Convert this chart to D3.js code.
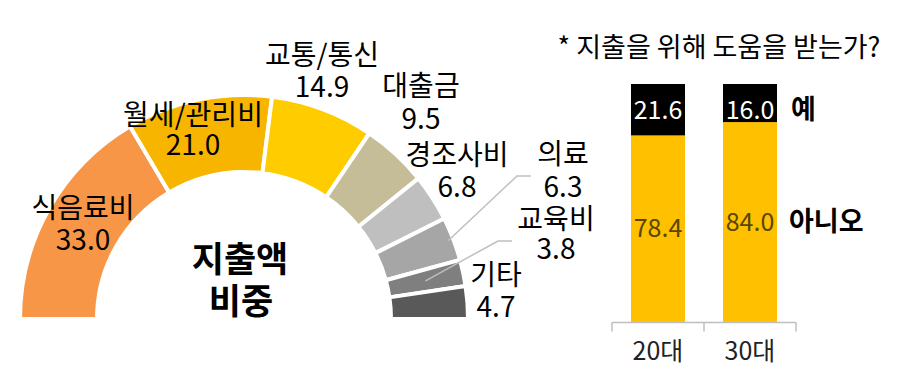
<!DOCTYPE html>
<html>
<head>
<meta charset="utf-8">
<script src="https://cdn.jsdelivr.net/npm/d3@7"></script>
<style>
  html, body { margin: 0; padding: 0; background: #fff; }
  svg { display: block; }
  text { font-family: 'Noto Sans CJK KR', 'Noto Sans', sans-serif; }
</style>
</head>
<body>
<svg id="chart" width="904" height="382"></svg>
<script>
// ---- data ----
const categories = ['식음료비', '월세/관리비', '교통/통신', '대출금', '경조사비', '의료', '교육비', '기타'];
const shares = [33.0, 21.0, 14.9, 9.5, 6.8, 6.3, 3.8, 4.7];
const centerTitle = ['지출액', '비중'];

const ageGroups = ['20대', '30대'];
const yesValues = [21.6, 16.0];
const noValues = [78.4, 84.0];
const answerLabels = ['예', '아니오'];
const sideTitle = '* 지출을 위해 도움을 받는가?';

// ---- styles / layout ----
const sliceColors = ['#F79646', '#F7B500', '#FFCC00', '#C4BD97', '#BFBFBF', '#A6A6A6', '#7F7F7F', '#595959'];
const yesColor = '#000000', noColor = '#FFC000';

// label layout: centre x, name baseline, value baseline, optional leader (stub end x, elbow x, y, radius fraction)
const labelLayout = [
  { x: 83, y1: 218, y2: 250 },
  { x: 193, y1: 125, y2: 155 },
  { x: 322, y1: 65, y2: 97 },
  { x: 421, y1: 96, y2: 129 },
  { x: 457, y1: 165, y2: 197 },
  { x: 563, y1: 164, y2: 197, leader: { x0: 531, x1: 517, y: 176, rf: 0.93 } },
  { x: 556, y1: 229, y2: 259, leader: { x0: 512, x1: 498, y: 241, rf: 0.5 } },
  { x: 496, y1: 285, y2: 317 }
];

const svg = d3.select('#chart');

// ---- half donut ----
const cx = 244, cy = 319, R = 224, r = 147;
const pie = d3.pie().sort(null).value(d => d)
  .startAngle(-Math.PI / 2).endAngle(Math.PI / 2);
const arcs = pie(shares);
const arc = d3.arc().innerRadius(r).outerRadius(R);
const gDonut = svg.append('g').attr('transform', `translate(${cx},${cy})`);

gDonut.selectAll('path.slice').data(arcs).join('path')
  .attr('class', 'slice')
  .attr('d', arc)
  .attr('fill', (d, i) => sliceColors[i])
  .attr('stroke', '#fff')
  .attr('stroke-width', 4)
  .attr('stroke-linejoin', 'miter');

// leader lines
arcs.forEach((d, i) => {
  const L = labelLayout[i];
  if (!L.leader) return;
  const mid = (d.startAngle + d.endAngle) / 2;
  const rr = r + (R - r) * L.leader.rf;
  const ex = cx + rr * Math.sin(mid), ey = cy - rr * Math.cos(mid);
  svg.append('polyline')
    .attr('points', `${L.leader.x0},${L.leader.y} ${L.leader.x1},${L.leader.y} ${ex},${ey}`)
    .attr('fill', 'none')
    .attr('stroke', '#BFBFBF')
    .attr('stroke-width', 1.5);
});

// slice labels (one text element per slice, two lines)
categories.forEach((c, i) => {
  const L = labelLayout[i];
  const t = svg.append('text')
    .attr('text-anchor', 'middle').attr('font-size', 28).attr('fill', '#000');
  t.append('tspan').attr('x', L.x).attr('y', L.y1).text(c);
  t.append('tspan').attr('x', L.x).attr('y', L.y2).text(d3.format('.1f')(shares[i]));
});

// centre title
const ct = svg.append('text')
  .attr('text-anchor', 'middle').attr('font-size', 35).attr('font-weight', 'bold').attr('fill', '#000');
ct.append('tspan').attr('x', 240).attr('y', 272).text(centerTitle[0]);
ct.append('tspan').attr('x', 241).attr('y', 314).text(centerTitle[1]);

// ---- stacked bars ----
const x = d3.scaleBand().domain(ageGroups).range([612, 796]).paddingInner(0.413).paddingOuter(0.2065);
const y = d3.scaleLinear().domain([0, 100]).range([322, 84]);

const gBars = svg.append('g');
ageGroups.forEach((g, i) => {
  const no = noValues[i], yes = yesValues[i];
  gBars.append('rect')
    .attr('x', x(g)).attr('width', x.bandwidth())
    .attr('y', y(no)).attr('height', y(0) - y(no))
    .attr('fill', noColor);
  gBars.append('rect')
    .attr('x', x(g)).attr('width', x.bandwidth())
    .attr('y', y(no + yes)).attr('height', y(no) - y(no + yes))
    .attr('fill', yesColor);
  gBars.append('text')
    .attr('x', x(g) + x.bandwidth() / 2).attr('y', y(no + yes) + 26)
    .attr('dy', '0.35em')
    .attr('text-anchor', 'middle').attr('font-size', 25).attr('fill', '#fff')
    .text(d3.format('.1f')(yes));
  gBars.append('text')
    .attr('x', x(g) + x.bandwidth() / 2).attr('y', (y(0) + y(no)) / 2)
    .attr('dy', '0.35em')
    .attr('text-anchor', 'middle').attr('font-size', 25).attr('fill', '#5A4600')
    .text(d3.format('.1f')(no));
});

// axis
const axisY = y(0) + 0.5;
const [x0, x1] = x.range();
gBars.append('line').attr('x1', x0).attr('x2', x1).attr('y1', axisY).attr('y2', axisY)
  .attr('stroke', '#BFBFBF').attr('stroke-width', 1.5);
d3.range(ageGroups.length + 1).forEach(k => {
  const tx = x0 + k * x.step();
  gBars.append('line').attr('x1', tx).attr('x2', tx).attr('y1', axisY).attr('y2', axisY + 9)
    .attr('stroke', '#BFBFBF').attr('stroke-width', 1.5);
});
ageGroups.forEach(g => {
  gBars.append('text')
    .attr('x', x(g) + x.bandwidth() / 2).attr('y', 360)
    .attr('text-anchor', 'middle').attr('font-size', 25).attr('fill', '#222')
    .text(g);
});

// legend labels beside the last bar
const last = ageGroups[ageGroups.length - 1];
const li = ageGroups.length - 1;
svg.append('text')
  .attr('x', x(last) + x.bandwidth() + 14).attr('y', y(noValues[li] + yesValues[li]) + 26)
  .attr('dy', '0.35em').attr('font-size', 27).attr('font-weight', 'bold').attr('fill', '#000')
  .text(answerLabels[0]);
svg.append('text')
  .attr('x', x(last) + x.bandwidth() + 12).attr('y', (y(0) + y(noValues[li])) / 2)
  .attr('dy', '0.35em').attr('font-size', 27).attr('font-weight', 'bold').attr('fill', '#000')
  .text(answerLabels[1]);

// side title
svg.append('text').attr('x', 719).attr('y', 57)
  .attr('text-anchor', 'middle').attr('font-size', 27).attr('fill', '#000')
  .text(sideTitle);
</script>
</body>
</html>
